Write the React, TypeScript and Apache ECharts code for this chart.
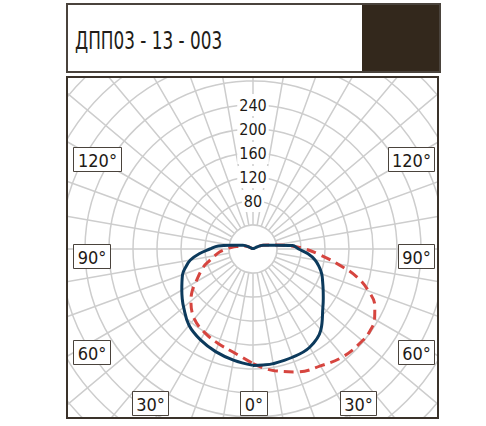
import React, { useEffect, useRef } from "react";
import * as echarts from "echarts";

// Angles in degrees: 0 = straight down, 90 = right, 180 = up, 270 = left
const angles = [0, 5, 10, 20, 30, 40, 50, 55, 60, 65, 70, 75, 80, 85, 90, 95, 100, 110, 120, 135, 150, 165, 180, 195, 210, 225, 240, 250, 260, 265, 270, 275, 280, 285, 290, 300, 305, 310, 320, 330, 340, 350, 360];
const blueValues = [194, 194, 194, 192, 189, 176, 152, 143, 135, 128, 122, 114, 105, 92, 76, 66, 37, 18, 4, 1, 0.5, 0, 0, 0, 0.5, 1, 4, 18, 35, 58, 72, 90, 106, 116, 125, 137, 144, 151, 166, 175, 182, 188, 194];
const redValues = [191, 199, 206, 218, 225, 234, 238, 238, 234, 224, 205, 179, 143, 112, 87, 62, 38, 18, 4, 1, 0.5, 0, 0, 0, 0.5, 1, 4, 15, 25, 35, 45, 56, 65, 75, 88, 110, 124, 135, 152, 161, 168, 176, 191];
const radiusLabels = [80, 120, 160, 200, 240];
const angleLabelTexts = ["120°", "120°", "90°", "90°", "60°", "60°", "30°", "0°", "30°"];
const titleText = "ДПП03 - 13 - 003";

// layout (decoration only)
const CX = 253;
const CY = 249;
const RMAX = 440;
const R1 = 264;
const PX = R1 / RMAX;
const INNER = 40;
const BOX = { x: 67, y: 77, w: 371, h: 341 };
const angleBoxes = [
  { x: 73, y: 147, w: 48 },
  { x: 388, y: 147, w: 46 },
  { x: 73, y: 244, w: 37 },
  { x: 398, y: 244, w: 36 },
  { x: 73, y: 340, w: 37 },
  { x: 398, y: 340, w: 36 },
  { x: 132, y: 391, w: 36 },
  { x: 240, y: 391, w: 27 },
  { x: 340, y: 391, w: 36 },
];
const FONT = '"DejaVu Sans Condensed", "DejaVu Sans", sans-serif';

export default function App() {
  const ref = useRef<HTMLDivElement>(null);
  useEffect(() => {
    if (!ref.current) return;
    const chart = echarts.init(ref.current, undefined, { renderer: "svg" });
    const grid = "#cdcdcd";
    const graphics: any[] = [];
    // hide spokes inside the innermost ring
    graphics.push({
      type: "circle", z: 1,
      shape: { cx: CX, cy: CY, r: INNER * PX },
      style: { fill: "#ffffff", stroke: grid, lineWidth: 1.5 },
    });
    // masks outside the plot box
    const W = 486, H = 426;
    [
      [0, 0, W, BOX.y],
      [0, BOX.y + BOX.h, W, H - BOX.y - BOX.h],
      [0, 0, BOX.x, H],
      [BOX.x + BOX.w, 0, W - BOX.x - BOX.w, H],
    ].forEach(([x, y, w, h]) =>
      graphics.push({ type: "rect", z: 10, shape: { x, y, width: w, height: h }, style: { fill: "#ffffff" } })
    );
    graphics.push({
      type: "rect", z: 11,
      shape: { x: BOX.x, y: BOX.y, width: BOX.w, height: BOX.h },
      style: { fill: "none", stroke: "#3a322a", lineWidth: 2 },
    });
    // title box
    graphics.push({
      type: "rect", z: 11,
      shape: { x: 362, y: 4, width: 78, height: 68 },
      style: { fill: "#33281c" },
    });
    graphics.push({
      type: "rect", z: 12,
      shape: { x: 67, y: 4, width: 373, height: 68 },
      style: { fill: "none", stroke: "#4a433c", lineWidth: 2 },
    });
    graphics.push({
      type: "text", z: 12, x: 75, y: 40, scaleX: 0.75, scaleY: 1,
      style: {
        text: titleText, fill: "#221d18", fontSize: 25,
        fontFamily: FONT,
        verticalAlign: "middle", align: "left",
      },
    });
    // radius labels
    radiusLabels.forEach((v) => {
      graphics.push({
        type: "text", z: 5, x: CX, y: CY - v * PX,
        style: {
          text: String(v), fill: "#1e1a16", fontSize: 16, fontFamily: FONT,
          align: "center", verticalAlign: "middle",
          backgroundColor: "#ffffff", padding: [3, 2],
        },
      });
    });
    // angle labels
    angleLabelTexts.forEach((t, i) => {
      const b = angleBoxes[i];
      graphics.push({
        type: "rect", z: 12,
        shape: { x: b.x + 0.5, y: b.y + 0.5, width: b.w, height: 24 },
        style: { fill: "#ffffff", stroke: "#4a433c", lineWidth: 1 },
      });
      graphics.push({
        type: "text", z: 13, x: b.x + 0.5 + b.w / 2, y: b.y + 13,
        style: {
          text: t, fill: "#1e1a16", fontSize: 18, fontFamily: FONT,
          align: "center", verticalAlign: "middle",
        },
      });
    });

    chart.setOption({
      animation: false,
      polar: { center: [CX, CY], radius: [0, R1] },
      angleAxis: {
        type: "value", min: 0, max: 360, interval: 10, startAngle: 270, clockwise: false, z: 0,
        axisLine: { show: false }, axisTick: { show: false }, axisLabel: { show: false },
        splitLine: { show: true, lineStyle: { color: grid, width: 1.5 } },
      },
      radiusAxis: {
        type: "value", min: 0, max: RMAX, interval: 40, z: 0,
        axisLine: { show: false }, axisTick: { show: false }, axisLabel: { show: false },
        splitLine: { show: true, lineStyle: { color: grid, width: 1.5 } },
      },
      series: [
        {
          type: "line", coordinateSystem: "polar", clip: false, symbol: "none", smooth: 0.4, z: 3,
          data: angles.map((a, i) => [redValues[i], a]),
          lineStyle: { color: "#d6453f", width: 3, type: [10, 6] },
        },
        {
          type: "line", coordinateSystem: "polar", clip: false, symbol: "none", smooth: 0.4, z: 4,
          data: angles.map((a, i) => [blueValues[i], a]),
          lineStyle: { color: "#0c3a5c", width: 3 },
        },
      ],
      graphic: { elements: graphics },
    });
    return () => chart.dispose();
  }, []);
  return (
    <div ref={ref} style={{ position: "absolute", left: 0, top: 0, width: 486, height: 426, background: "#fff" }} />
  );
}
